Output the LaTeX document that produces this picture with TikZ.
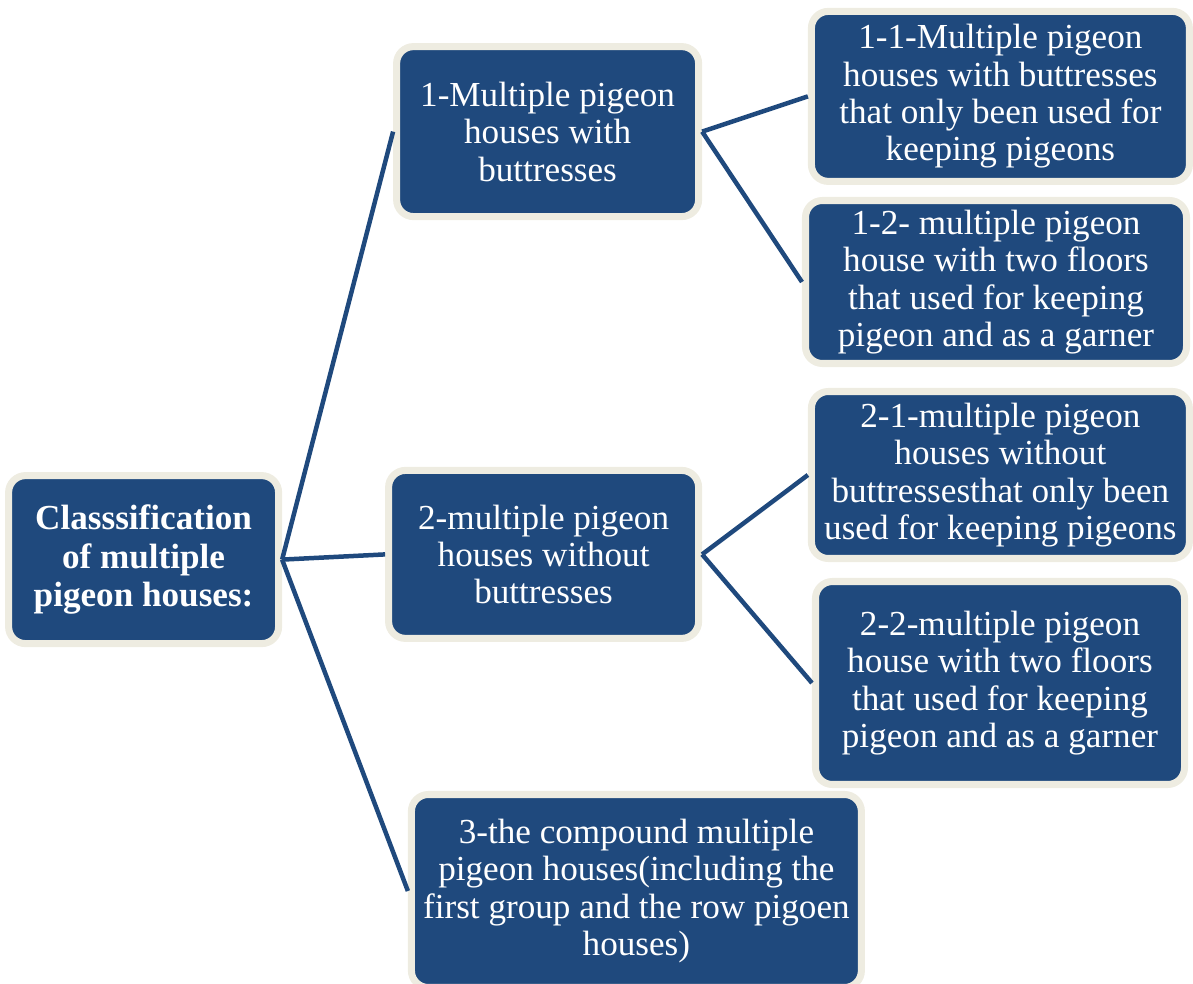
\documentclass[tikz,border=0pt]{standalone}
\usepackage{fontspec}
\setmainfont{Liberation Serif}
\usepackage[dvipsnames]{xcolor}

\definecolor{boxblue}{RGB}{31,73,125}
\definecolor{boxrim}{RGB}{238,236,225}

\begin{document}
\begin{tikzpicture}[-,thick,main node/.style={rectangle,rounded corners=12pt,draw=boxrim,line width=5pt,fill=boxblue,text=white,align=center,inner sep=1pt,font=\fontsize{25}{26.6}\selectfont}]

            \useasboundingbox (0,0) rectangle (29.825,-24.6);

            \node[main node, minimum width=6.75cm, minimum height=4.2cm, font=\fontsize{25}{27.2}\selectfont\bfseries] (0) at (3.59,-13.99) {Classsification\\of multiple\\pigeon houses:};
            \node[main node, minimum width=7.55cm, minimum height=4.25cm] (1) at (13.69,-3.29) {1-Multiple pigeon\\houses with\\buttresses};
            \node[main node, minimum width=9.45cm, minimum height=4.25cm] (11) at (25.01,-2.41) {1-1-Multiple pigeon\\houses with buttresses\\that only been used for\\keeping pigeons};
            \node[main node, minimum width=9.525cm, minimum height=4.075cm] (12) at (24.9,-7.05) {1-2- multiple pigeon\\house with two floors\\that used for keeping\\pigeon and as a garner};
            \node[main node, minimum width=7.75cm, minimum height=4.2cm] (2) at (13.59,-13.86) {2-multiple pigeon\\houses without\\buttresses};
            \node[main node, minimum width=9.45cm, minimum height=4.175cm] (21) at (25.01,-11.875) {2-1-multiple pigeon\\houses without\\buttressesthat only been\\used for keeping pigeons};
            \node[main node, minimum width=9.225cm, minimum height=5.075cm] (22) at (25.0,-17.075) {2-2-multiple pigeon\\house with two floors\\that used for keeping\\pigeon and as a garner};
            \node[main node, minimum width=11.25cm, minimum height=4.825cm] (3) at (15.91,-22.275) {3-the compound multiple\\pigeon houses(including the\\first group and the row pigoen\\houses)};

            \path[draw=boxblue, line width=3.2pt]
                (0.east) edge (1.west)
                (0.east) edge (2.west)
                (0.east) edge (3.west)
                (1.east) edge (11.west)
                (1.east) edge (12.west)
                (2.east) edge (21.west)
                (2.east) edge (22.west)
            ;
        \end{tikzpicture}
\end{document}
